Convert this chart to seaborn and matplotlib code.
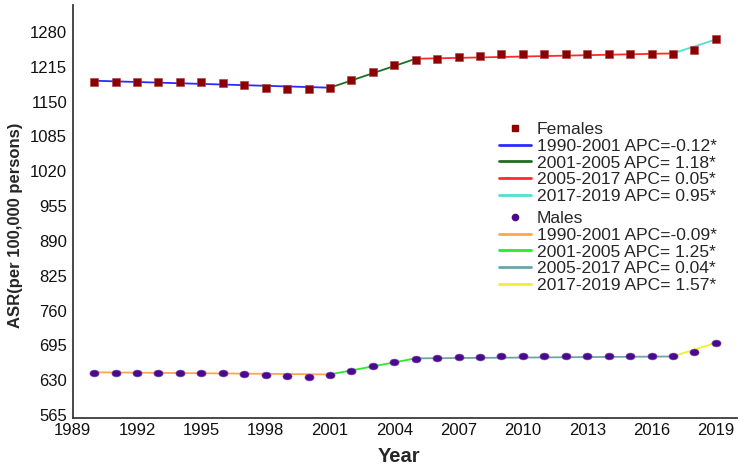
import matplotlib.pyplot as plt
import numpy as np
import pandas as pd
import seaborn as sns
from matplotlib.lines import Line2D

years = list(range(1990, 2020))

females_asr = [1186, 1186, 1186, 1186, 1186, 1186, 1185, 1181, 1176, 1173,
               1173, 1176, 1190, 1205, 1219, 1227, 1230, 1233, 1235, 1238,
               1239, 1239, 1239, 1239, 1239, 1239, 1239, 1239, 1247, 1266]
males_asr = [643.5, 643.5, 643.5, 643.5, 643.5, 643.5, 643, 641.7, 639.8, 637.4,
             636.9, 639.8, 648, 656.5, 664.6, 668.9, 670.8, 672.6, 673.2, 674.5,
             674.5, 674.5, 674.5, 674.5, 674.5, 674.5, 674.5, 674.5, 683, 700]

# joinpoint segments: breakpoints and fitted values at each breakpoint
joinpoints = [1990, 2001, 2005, 2017, 2019]
females_fit = [1189, 1176, 1230, 1240, 1266]
males_fit = [645, 641, 671, 674.5, 700]

females_labels = ["1990-2001 APC=-0.12*", "2001-2005 APC= 1.18*",
                  "2005-2017 APC= 0.05*", "2017-2019 APC= 0.95*"]
males_labels = ["1990-2001 APC=-0.09*", "2001-2005 APC= 1.25*",
                "2005-2017 APC= 0.04*", "2017-2019 APC= 1.57*"]
females_colors = ["#2b2bff", "#1f6e1f", "#ff2a2a", "#4fe0d4"]
males_colors = ["#ffa64d", "#2de82d", "#6fa3a8", "#f2ee30"]

y_ticks = list(range(565, 1281, 65))
x_ticks = list(range(1989, 2020, 3))


def segments_frame(fit, labels):
    rows = []
    for i, label in enumerate(labels):
        for j in (i, i + 1):
            rows.append({"year": joinpoints[j], "asr": fit[j], "segment": label})
    return pd.DataFrame(rows)


sns.set_theme(style="white")
plt.rcParams["font.family"] = ["Liberation Sans", "DejaVu Sans"]

fig = plt.figure(figsize=(7.5, 4.7), dpi=100)
ax = fig.add_axes([0.097, 0.111, 0.886, 0.878])

seg = pd.concat([segments_frame(females_fit, females_labels),
                 segments_frame(males_fit, males_labels)], ignore_index=True)
palette = dict(zip(females_labels + males_labels, females_colors + males_colors))
sns.lineplot(data=seg, x="year", y="asr", hue="segment",
             hue_order=females_labels + males_labels, palette=palette,
             linewidth=1.3, legend=False, ax=ax)

pts = pd.DataFrame({"year": years * 2,
                    "asr": females_asr + males_asr,
                    "sex": ["Females"] * len(years) + ["Males"] * len(years)})
t = np.linspace(0, 2 * np.pi, 40)
ellipse = np.column_stack([np.cos(t), 0.75 * np.sin(t)])
sns.scatterplot(data=pts[pts.sex == "Females"], x="year", y="asr", marker="s",
                color="#8b0000", edgecolor="#a83a3a", linewidth=0.4, s=33,
                legend=False, ax=ax, zorder=3)
sns.scatterplot(data=pts[pts.sex == "Males"], x="year", y="asr", marker=ellipse,
                color="#4b0a8c", edgecolor="#7a50b8", linewidth=0.4, s=44,
                legend=False, ax=ax, zorder=3)

ax.set_xlim(1989, 2020)
ax.set_ylim(560, 1330)
ax.set_xticks(x_ticks)
ax.set_yticks(y_ticks)
ax.tick_params(axis="both", length=0, labelsize=12, colors="#111111", pad=4)
for side in ("top", "right"):
    ax.spines[side].set_visible(False)
for side in ("left", "bottom"):
    ax.spines[side].set_color("#3a3a3a")
    ax.spines[side].set_linewidth(1.3)

ax.set_xlabel("Year", fontsize=14.5, fontweight="bold")
ax.set_ylabel("ASR(per 100,000 persons)", fontsize=12, fontweight="bold")
ax.xaxis.set_label_coords(0.491, -0.07)
ax.yaxis.set_label_coords(-0.075, 0.467)

fem_handles = [Line2D([], [], linestyle="none", marker="s", markersize=4.5,
                      color="#8b0000")]
fem_handles += [Line2D([], [], color=c, linewidth=2) for c in females_colors]
male_handles = [Line2D([], [], linestyle="none", marker="o", markersize=4.5,
                       color="#4b0a8c")]
male_handles += [Line2D([], [], color=c, linewidth=2) for c in males_colors]

leg_kw = dict(frameon=False, fontsize=12.6, labelspacing=0.08, handlelength=1.85,
              handletextpad=0.3, borderpad=0, borderaxespad=0, loc="upper left")
fig.legend(fem_handles, ["Females"] + females_labels,
           bbox_to_anchor=(499 / 750, 1 - 122 / 470), **leg_kw)
fig.legend(male_handles, ["Males"] + males_labels,
           bbox_to_anchor=(499 / 750, 1 - 211 / 470), **leg_kw)

fig.savefig("out.png", dpi=100)
